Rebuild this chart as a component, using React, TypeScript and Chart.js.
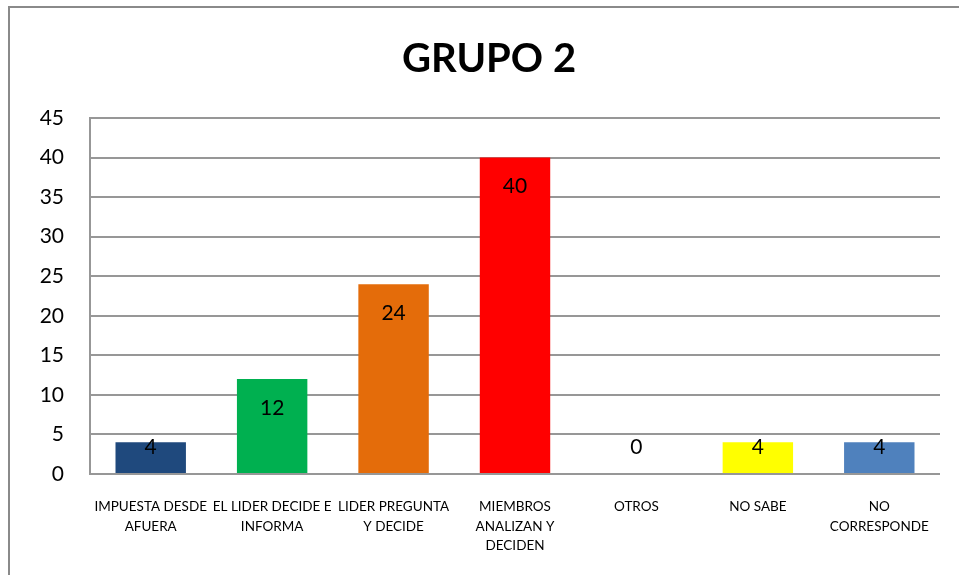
import React, { useEffect, useRef } from "react";
import { Chart, registerables } from "chart.js";

Chart.register(...registerables);

const TITLE = "GRUPO 2";
const categories: (string | string[])[] = [
  ["IMPUESTA DESDE", "AFUERA"],
  ["EL LIDER DECIDE E", "INFORMA"],
  ["LIDER PREGUNTA", "Y DECIDE"],
  ["MIEMBROS", "ANALIZAN Y", "DECIDEN"],
  "OTROS",
  "NO SABE",
  ["NO", "CORRESPONDE"],
];
const values = [4, 12, 24, 40, 0, 4, 4];
const barColors = ["#1F497D", "#00B050", "#E46C0A", "#FF0000", "#FFFF00", "#FFFF00", "#4F81BD"];
const yMax = 45;
const yStep = 5;

const FONT = "Lato, 'Open Sans', sans-serif";

export default function App() {
  const ref = useRef<HTMLCanvasElement | null>(null);

  useEffect(() => {
    const canvas = ref.current;
    if (!canvas) return;

    const frame = {
      id: "frame",
      beforeDraw(chart: any) {
        const ctx = chart.ctx;
        ctx.save();
        ctx.fillStyle = "#ffffff";
        ctx.fillRect(0, 0, chart.width, chart.height);
        ctx.strokeStyle = "#8a8a8a";
        ctx.lineWidth = 2;
        ctx.strokeRect(9, 7, chart.width + 20, chart.height + 20);
        ctx.restore();
      },
      afterDraw(chart: any) {
        const ctx = chart.ctx;
        ctx.save();
        ctx.fillStyle = "#000";
        ctx.font = `bold 40px ${FONT}`;
        ctx.textAlign = "center";
        ctx.textBaseline = "middle";
        ctx.fillText(TITLE, 489, 59);
        ctx.restore();
      },
    };

    const labels = {
      id: "valueLabels",
      afterDatasetsDraw(chart: any) {
        const ctx = chart.ctx;
        const meta = chart.getDatasetMeta(0);
        const base = chart.scales.y.getPixelForValue(0);
        ctx.save();
        ctx.fillStyle = "#000";
        ctx.font = `21px ${FONT}`;
        ctx.textAlign = "center";
        ctx.textBaseline = "middle";
        meta.data.forEach((bar: any, i: number) => {
          const y = Math.min(bar.y + 29, base - 27);
          ctx.fillText(String(values[i]), bar.x, y);
        });
        ctx.restore();
      },
    };

    const colors = values.map((_, i) => (i === 4 ? "rgba(0,0,0,0)" : barColors[i]));

    const chart = new Chart(canvas, {
      type: "bar",
      data: {
        labels: categories,
        datasets: [
          {
            data: values,
            backgroundColor: colors,
            borderWidth: 0,
            categoryPercentage: 1,
            barPercentage: 0.58,
          },
        ],
      },
      options: {
        responsive: false,
        animation: false,
        layout: { padding: { top: 118, right: 19, bottom: 0, left: 0 } },
        plugins: {
          legend: { display: false },
          title: { display: false },
          tooltip: { enabled: false },
        },
        scales: {
          x: {
            grid: { display: false, drawTicks: false },
            border: { display: false },
            ticks: {
              color: "#000",
              font: { family: FONT, size: 13.5, lineHeight: 1.45 },
              autoSkip: false,
              maxRotation: 0,
              minRotation: 0,
              padding: 23,
            },
            afterFit(s: any) {
              s.height = 101;
            },
          },
          y: {
            min: 0,
            max: yMax,
            grid: { color: "#979797", lineWidth: 2, drawTicks: false },
            border: { display: true, color: "#979797", width: 2 },
            ticks: {
              stepSize: yStep,
              color: "#000",
              font: { family: FONT, size: 21 },
              padding: 26,
            },
            afterFit(s: any) {
              s.width = 90;
            },
          },
        },
      },
      plugins: [frame, labels],
    });

    return () => chart.destroy();
  }, []);

  return (
    <canvas
      ref={ref}
      width={959}
      height={575}
      style={{ position: "fixed", left: 0, top: 0, width: 959, height: 575 }}
    />
  );
}
